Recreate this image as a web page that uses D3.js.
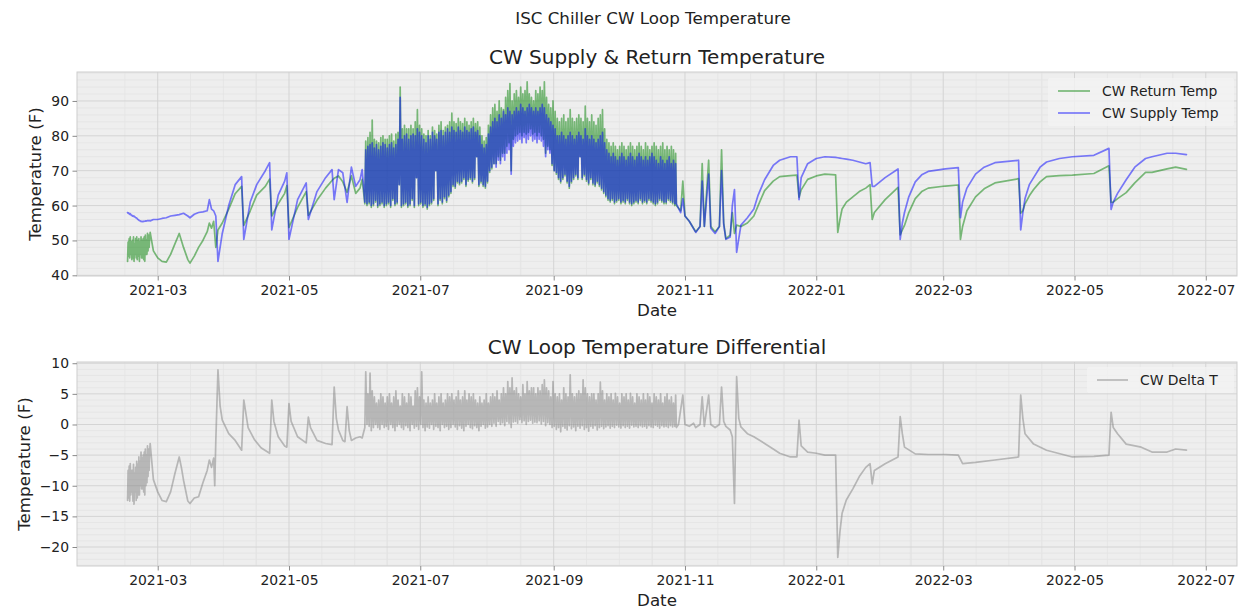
<!DOCTYPE html>
<html>
<head>
<meta charset="utf-8">
<script src="https://cdn.jsdelivr.net/npm/d3@7"></script>
<style>
  body { margin: 0; background: #ffffff; }
  svg { display: block; }
  text { font-family: "DejaVu Sans", sans-serif; fill: #222; }
</style>
</head>
<body>
<svg id="chart" width="1243" height="611"></svg>
<script>
// ---------------- data ----------------
// Start-up period: readings every 6 hours from earlyStart
const earlyStart = "2021-02-15T00";
const returnEarly = [
  44,49.5,45.5,50.5, 45,51,46,49.5, 44.5,50,45,51, 44,49,46,50.5, 45,51,44.5,50,
  45.5,50.5,44,49.5, 46,51,45,50, 45,50.5,44.5,51, 44,51.5,46,50, 46,52,47,51.5, 48,50.5,52.3
];
const supplyEarly = [
  58,57.8,57.9,57.6, 57.5,57.7,57.4,57.2, 57.2,57,57.1,56.9, 57,56.8,56.7,56.5, 56.5,56.4,56.2,56,
  56,55.8,55.7,55.6, 55.6,55.4,55.5,55.4, 55.4,55.5,55.4,55.5, 55.5,55.6,55.5,55.6, 55.6,55.7,55.6,55.7, 55.6,55.7,55.6
];
const deltaEarly = [
  -12.4,-7.5,-12,-6.8, -12.5,-6.4,-11.5,-7.5, -11,-7.5,-12.5,-6.5, -13,-8,-11,-7, -12.4,-6,-12,-6.5,
  -11.5,-5.3,-11.5,-6, -10,-4.5,-10.5,-5.5, -10.5,-5,-11,-4.5, -11.5,-4,-10,-5, -9.5,-3.5,-8.5,-4, -7.5,-4.5,-3.1
];

// Supply / return readings outside the start-up and daily-cycling periods
const sparseDates = [
  "2021-02-27","2021-03-01","2021-03-03","2021-03-05",
  "2021-03-07","2021-03-09","2021-03-11","2021-03-13","2021-03-15","2021-03-16","2021-03-18","2021-03-20",
  "2021-03-22","2021-03-24","2021-03-25","2021-03-26","2021-03-27","2021-03-28","2021-03-29",
  "2021-03-31","2021-04-03","2021-04-06","2021-04-09","2021-04-10","2021-04-13","2021-04-16","2021-04-20",
  "2021-04-22","2021-04-23","2021-04-26","2021-04-29","2021-04-30","2021-05-01","2021-05-05","2021-05-09",
  "2021-05-10","2021-05-14","2021-05-18","2021-05-21","2021-05-22","2021-05-24","2021-05-26","2021-05-28",
  "2021-05-30","2021-06-01","2021-06-03","2021-06-04",
  "2021-10-28","2021-10-30","2021-10-31","2021-11-01","2021-11-03","2021-11-06","2021-11-08","2021-11-09",
  "2021-11-10","2021-11-12","2021-11-13","2021-11-15","2021-11-17","2021-11-18","2021-11-19","2021-11-20",
  "2021-11-22","2021-11-23","2021-11-24","2021-11-25","2021-11-27","2021-11-30","2021-12-03","2021-12-05",
  "2021-12-08","2021-12-12","2021-12-15","2021-12-20","2021-12-23","2021-12-24","2021-12-25","2021-12-28",
  "2022-01-01","2022-01-05","2022-01-10","2022-01-11","2022-01-12","2022-01-13","2022-01-15","2022-01-18",
  "2022-01-21","2022-01-24","2022-01-26","2022-01-27","2022-01-28","2022-02-02","2022-02-08","2022-02-09",
  "2022-02-10","2022-02-11","2022-02-13","2022-02-16","2022-02-19","2022-02-22","2022-03-02","2022-03-08",
  "2022-03-09","2022-03-10","2022-03-12","2022-03-16","2022-03-20","2022-03-25","2022-04-05","2022-04-06",
  "2022-04-07","2022-04-08","2022-04-10","2022-04-12","2022-04-15","2022-04-18","2022-04-24","2022-04-30",
  "2022-05-10","2022-05-17","2022-05-18","2022-05-19","2022-05-21","2022-05-25","2022-05-29","2022-06-03",
  "2022-06-06","2022-06-13","2022-06-17","2022-06-22"
];
const returnSparse = [
  47,45,44,43.8,
  46,49,52,48,44.5,43.5,45.5,48, 50,52.5,55,53.5,55.5,48,53,
  55,59,63.4,65.5,54.3,58.5,63,65.5, 67.6,57,60.5,63.5,65.7,53.7,59.5,64,
  57.2,61.5,65,67.2,67.8,68.5,66.8,63.8, 68.5,63.5,65,67.5,
  60,58.5,67,57,55.5,52.5,54,72, 54,73,54,52.5,54,76,55,50.5,
  51.5,58,52,54.4,54,55,57,60, 64.3,67,68.3,68.6,68.7,62.4,64.5,67.5,
  68.5,69,68.8,52.3,56,59,61,62.5, 64,65,66,56,58,61.7,65.2,51.6,
  53,54.3,58,62,64,65,65.6,65.9, 50.3,54,58.5,62.5,64.8,66.5,67.7,57.8,
  58.5,60.5,62.8,64.6,66.8,68.3,68.6,68.7, 69.2,71.4,60.9,61,62,63.7,66.5,69.5,
  69.5,70.5,71,70.4
];
const supplySparse = [
  56,56,56.3,56.5,
  57,57.2,57.4,57.8,57,56.5,57.5,58, 58.2,58.5,61.7,59,58.5,57,44,
  52,60,66,68.3,50.3,61,66,70, 72.3,53,63,67,69.4,50.3,61.7,66.5,
  56,64,68,70.3,61.7,70.3,69.4,60.9, 71,65.5,67.4,70.3,
  60.5,58,62,57,55.5,52.3,54,67, 54,69,53.5,52,54,70,54.5,50.3,
  51,60,64.6,46.6,54.4,56.5,59,63, 67.4,71.5,73,74,74,61.7,68,72,
  73.5,74,73.8,73.7,73.6,73.5,73.3,73, 72.5,72,72.3,65.5,65.5,68,70.5,50.3,
  55,58,62.5,66.8,68.8,69.8,70.5,70.9, 56.5,61,65,69,71,72.3,73,53,
  58,62,66,68,71,72.5,73.5,74, 74.4,76.4,58.9,61,63.5,67.4,71,73.5,
  74,75,75,74.6
];

// Summer daily cycle: one night low and one afternoon high per day from cycleStart
const cycleStart = "2021-06-05";
const supplyLow = [
  61,60.5,61,60,60.5,61.5,60,60.5,61,60,
  60.5,61,60,62,60.5,61,66,60,60.5,61,
  60,60.5,62,60,68,60.5,61,60,60.5,59.5,
  60.5,61,62,70,60.5,62,61,62.5,61.5,63,
  64,66,65.5,67,66.5,67,68,66,67.5,68,
  67,68,74,66,67,66,65.5,67,70,71,
  72,71,73,72,74,73,75,76,69,77,
  78,78.5,79,78,79.5,78,79,80,78.5,79,
  78,79,78.5,77,74,76,75,72,70,69.5,
  68,67,68,69,67,65.5,67,68,69,68,
  74,68,69,67.5,66.5,68,66.5,66,67,66,
  65,64,63,62,61.5,62,61,61.5,62,61,
  61.5,61,62,61,60.5,61,61.5,61,62,61,
  61.5,61,62,61.5,61,60.5,61,62,61.5,61,
  61,62,61.5,61,60.5
];
const supplyHigh = [
  76,77,77.5,78,76.5,77.5,76,77,78,77.5,
  76.5,77.5,78,76.5,77.5,79,91,79,80,80.5,
  79,80,80.5,80,82,81,80,79,78,80,
  79,81,80,79,81,81.5,80,81,82,81,
  82.5,81.5,81,82.5,81.5,81,82.5,81.5,81,82,
  82.5,81,81.5,80,77.5,76.5,77.5,80.5,82.5,84,
  85,84,86,85,87,86,88,87,86,87,
  88,87,89,88,87,88,89,88,87,88,
  87,88,89,88,86,85,84,83,82,80,
  80,81,80,79,80,81,80,79,80,81,
  80,79,82,80,79,80,79,78,79,80,
  81,78,76,75,74,75,74,73,74,75,
  74,73,74,75,74,73,74,75,74,73,
  74,73,74,75,74,73,72,74,73,72,
  73,74,72,73,72
];
const returnLow = [
  60.5,60,60.5,59.5,60,61,59.5,60,60.5,59.5,
  60,60.5,59.5,61.5,60,60.5,66,59.5,60,60.5,
  59.5,60,61.5,59.5,68,60,60.5,59.5,60,59,
  60,60.5,61.5,70,60,61.5,60.5,62,61,62.5,
  63.5,65.5,65,66.5,66,66.5,67.5,65.5,67,67.5,
  66.5,67.5,74,65.5,66.5,65.5,65,66.5,69.5,70.5,
  72,72,74,73,75,75,77,78,70,79,
  80,80.5,81,80,81,80.5,81,82,80.5,81,
  80,81,80,79,75,77,76,71.5,70,69,
  67.5,66.5,67.5,68.5,66.5,65,66.5,67.5,68.5,67.5,
  74,67.5,68.5,67,66,67.5,66,65.5,66.5,65.5,
  64.5,63.5,62.5,61.5,61,61.5,60.5,61,61.5,60.5,
  61,60.5,61.5,60.5,60,60.5,61,60.5,61.5,60.5,
  61,60.5,61.5,61,60.5,60,60.5,61.5,61,60.5,
  60.5,61.5,61,60.5,60
];
const returnHigh = [
  78.5,79.5,81,84.5,79,78.5,78,79.5,80,79,
  79,80,80.5,78.5,80.5,81,94,82,83,82,
  82,83,82,84,87.5,83,82,80.5,80,81.5,
  80,82.5,81.5,80.5,83,84,81.5,82.5,83,84,
  86.5,84,83.5,85,84,83.5,85,84,83,84,
  85,83.5,84,82.5,80,78.5,79.5,83,86,88,
  89,87,90,88,87.5,91,93,95,90,92,
  93,91,94,92,93,95.5,92,91,90,93,
  92,94,93,95.5,91,89,88,90,87,85,
  84,85,86,84,85,87.5,85,84,85,86,
  85,84,88.5,85,84,86,84,83,85,86,
  87.5,82,79,78,77,78,77,76,77,78,
  77,76,77,78,77,76,77,78,77,76,
  78,77,76,77,78,77,76,77,78,76,
  77,76,77,76,75
];

// Delta T readings outside the start-up and summer periods
const deltaDates = [
  "2021-02-27","2021-03-01","2021-03-03","2021-03-05",
  "2021-03-07","2021-03-09","2021-03-11","2021-03-12","2021-03-13","2021-03-15","2021-03-16","2021-03-18",
  "2021-03-20","2021-03-22","2021-03-24","2021-03-25","2021-03-26","2021-03-27T00","2021-03-27T12",
  "2021-03-28","2021-03-29","2021-03-30","2021-03-31","2021-04-03","2021-04-06","2021-04-09","2021-04-10",
  "2021-04-12","2021-04-15","2021-04-18","2021-04-22","2021-04-23","2021-04-24","2021-04-26","2021-04-29",
  "2021-04-30","2021-05-01","2021-05-02","2021-05-05","2021-05-09","2021-05-10","2021-05-11","2021-05-14",
  "2021-05-18","2021-05-21","2021-05-22","2021-05-23","2021-05-24","2021-05-26","2021-05-27","2021-05-28",
  "2021-05-29","2021-05-30","2021-06-01","2021-06-03","2021-06-04",
  "2021-10-28","2021-10-29","2021-10-31","2021-11-01","2021-11-03","2021-11-05","2021-11-06","2021-11-08",
  "2021-11-09","2021-11-10","2021-11-12","2021-11-13","2021-11-15","2021-11-17","2021-11-18","2021-11-19",
  "2021-11-20","2021-11-22","2021-11-23","2021-11-24","2021-11-25","2021-11-26","2021-11-27","2021-11-30",
  "2021-12-03","2021-12-08","2021-12-12","2021-12-15","2021-12-20","2021-12-23","2021-12-24","2021-12-25",
  "2021-12-28","2022-01-01","2022-01-05","2022-01-10","2022-01-11","2022-01-12","2022-01-13","2022-01-15",
  "2022-01-18","2022-01-21","2022-01-24","2022-01-26","2022-01-27","2022-01-28","2022-02-02","2022-02-08",
  "2022-02-09","2022-02-10","2022-02-11","2022-02-16","2022-02-22","2022-03-02","2022-03-08","2022-03-10",
  "2022-03-16","2022-03-25","2022-04-05","2022-04-06","2022-04-07","2022-04-08","2022-04-12","2022-04-18",
  "2022-04-30","2022-05-10","2022-05-17","2022-05-18","2022-05-19","2022-05-21","2022-05-25","2022-06-01",
  "2022-06-06","2022-06-13","2022-06-17","2022-06-22"
];
const deltaSparse = [
  -9,-11,-12.4,-12.6, -11,-8,-5.3,-7,-9.1,-12.5,-12.9,-12,
  -11.8,-9.5,-7.5,-5.8,-7,-5.5,-10, -2.6,8.9,3,0.7,-1.5,-2.6,-4.2,4,
  -0.5,-2.5,-3.8,-4.7,4,0.5,-2,-3.5, -3.7,3.4,0.5,-2,-3,1.2,-0.5,-2.6,
  -3.1,-3.3,6.1,1,-0.9,-2.6,-2.8,2.9, -1,-2.6,-2.2,-2,-2.2,
  -0.5,0,4.8,0,-0.3,0.2,-0.5,0, 4.5,-0.3,4.8,0,-0.5,0,6.1,0.5,
  -0.3,-0.9,-2,-12.9,7.8,1,-0.4,-1.5, -2,-3.1,-4,-4.7,-5.3,-5.3,0.7,-3.5,
  -4.5,-4.7,-5,-5,-21.7,-17.5,-14.5,-12.3, -10.5,-8.5,-7,-6.4,-9.7,-7.5,-6.4,-5.3,
  1.3,-1.5,-3.7,-4.8,-4.9,-4.9,-5,-6.4, -6.2,-5.8,-5.3,4.8,1,-1.5,-3.2,-4.2,
  -5.3,-5.2,-5,2,-0.5,-1.5,-3.2,-3.7, -4.5,-4.5,-4,-4.2
];
const deltaLow = [
  -0.5,0,-0.3,-1,-0.5,0,-0.5,-0.8,0,-0.5,
  -0.3,-0.8,0,-0.5,-1,-0.3,0,-0.5,-0.8,-0.2,
  -0.5,-1,0,-0.6,-0.3,-0.8,0,-0.5,-1,-0.4,
  -0.6,0,-0.8,-0.3,-0.5,-1,0,-0.5,-0.3,-0.8,
  -0.5,0,-0.4,-0.8,-0.2,-0.6,-1,-0.3,0,-0.5,
  -0.7,-0.2,-0.5,-1,-0.3,0,-0.6,-0.4,0,-0.3,
  0.2,-0.3,0.5,0,0.3,-0.2,0.5,0.2,-0.5,0.4,
  0.5,0.2,0.8,0.3,0.6,0,0.5,0.7,0.2,0.4,
  0.3,0.6,0.1,0.5,-0.2,0.3,0,-0.5,-0.3,-0.8,
  -0.5,-1.2,-0.3,-0.6,-0.9,-0.2,-0.7,-0.4,-1,-0.3,
  -0.6,-0.2,-0.8,-0.5,-1.1,-0.3,-0.6,-0.2,-0.9,-0.5,
  -0.3,-0.7,-0.4,-0.2,-0.6,-0.3,-0.5,-0.1,-0.4,-0.6,
  -0.2,-0.5,-0.3,-0.6,-0.1,-0.4,-0.3,-0.5,-0.2,-0.4,
  -0.3,-0.6,-0.2,-0.4,-0.5,-0.1,-0.3,-0.6,-0.2,-0.4,
  -0.3,-0.5,-0.2,-0.4,-0.3
];
const deltaHigh = [
  8.6,5,8.4,5.5,4.5,3.5,4,5,4.5,3.5,
  4.5,5,3.5,4.5,5.5,4,3,5,4.5,3.5,
  5,4.5,3,5.5,6,4.5,8.6,4,3.5,4.5,
  3.5,4,5,3.5,4.5,5,3.5,4,5,4.5,
  5,4,4.5,5.5,4,4.5,5.5,4,5,4.5,
  5,4,3.5,4.5,3.5,4,5,3.5,4.5,5,
  4.5,5.5,4,5,6,5,7,6,7.6,5.5,
  6,5,4.5,6.5,5,7,5.5,6,6,5,
  6,5.5,6.5,7.3,6,5.5,4.5,7,5,4.5,
  5,4,6,5,4.5,8.1,5,4.5,5,5.5,
  5,7.3,6,5,4.5,5,5,4,5,6.9,
  5.5,4,5,4.5,5,4,5.1,4.5,3.5,5,
  4.5,5,4,5.1,4.5,3.5,5,4.5,4,5,
  4,5,4.5,3.5,5,4.5,4,5,3.5,4.5,
  5,4,4.5,3.5,4.8
];

const xTickLabels = ["2021-03","2021-05","2021-07","2021-09","2021-11","2022-01","2022-03","2022-05","2022-07"];
const topYTicks = [40, 50, 60, 70, 80, 90];
const bottomYTicks = [-20, -15, -10, -5, 0, 5, 10];

// ---------------- helpers ----------------
const parseHour = d3.utcParse("%Y-%m-%dT%H");
const parseDay = d3.utcParse("%Y-%m-%d");
const parseMonth = d3.utcParse("%Y-%m");
const toDate = s => (s.length > 10 ? parseHour(s) : parseDay(s));

function earlyPoints(values) {
  const start = parseHour(earlyStart);
  return values.map((v, i) => [d3.utcHour.offset(start, 6 * i), v]);
}
function cyclePoints(lows, highs) {
  const start = parseDay(cycleStart);
  const pts = [];
  lows.forEach((lo, i) => {
    const day = d3.utcDay.offset(start, i);
    pts.push([d3.utcHour.offset(day, 6), lo]);
    pts.push([d3.utcHour.offset(day, 16), highs[i]]);
  });
  return pts;
}
function buildSeries(early, dates, values, lows, highs) {
  const pts = earlyPoints(early)
    .concat(dates.map((d, i) => [toDate(d), values[i]]))
    .concat(cyclePoints(lows, highs));
  return pts.sort((a, b) => a[0] - b[0]);
}

const returnSeries = buildSeries(returnEarly, sparseDates, returnSparse, returnLow, returnHigh);
const supplySeries = buildSeries(supplyEarly, sparseDates, supplySparse, supplyLow, supplyHigh);
const deltaSeries = buildSeries(deltaEarly, deltaDates, deltaSparse, deltaLow, deltaHigh);

// ---------------- layout ----------------
const svg = d3.select("#chart");
const left = 77, right = 1237;
const FS = { tick: 13.9, title: 20, label: 16.7, legend: 13.9, suptitle: 16.7 };
const panels = [
  { top: 72, bottom: 276, domain: [39.8, 98.3], ticks: topYTicks, minorStep: 2,
    title: "CW Supply & Return Temperature", ylabelX: 35,
    series: [
      { name: "CW Return Temp", data: returnSeries, color: "#008000" },
      { name: "CW Supply Temp", data: supplySeries, color: "#0000ff" }
    ],
    legend: { x: 1058, y: 91, w: 32, textX: 1102, gap: 22, box: [1048, 78, 186, 48] } },
  { top: 362, bottom: 566, domain: [-23.1, 10.2], ticks: bottomYTicks, minorStep: 1,
    title: "CW Loop Temperature Differential", ylabelX: 24,
    series: [ { name: "CW Delta T", data: deltaSeries, color: "#808080" } ],
    legend: { x: 1097, y: 380, w: 31, textX: 1140, gap: 22, box: [1087, 367, 147, 26] } }
];

const x = d3.scaleUtc()
  .domain([new Date(Date.UTC(2021, 0, 22, 12)), new Date(Date.UTC(2022, 6, 15, 12))])
  .range([left, right]);
const xMajor = xTickLabels.map(parseMonth);
// four minor intervals between each pair of major ticks
const xMinor = [];
for (let i = 0; i < xMajor.length; i++) {
  const a = xMajor[i], b = xMajor[i + 1] || d3.utcMonth.offset(a, 2);
  for (let k = -1; k < 4; k++) {
    const t = new Date(+a + (b - a) * k / 4);
    if (k !== 0 && t >= x.domain()[0] && t <= x.domain()[1]) xMinor.push(t);
  }
}

svg.append("text").attr("x", 653).attr("y", 24).attr("text-anchor", "middle")
  .style("font-size", FS.suptitle + "px").text("ISC Chiller CW Loop Temperature");

panels.forEach((p, pi) => {
  const y = d3.scaleLinear().domain(p.domain).range([p.bottom, p.top]);
  const g = svg.append("g");
  const clipId = "clip" + pi;
  svg.append("clipPath").attr("id", clipId).append("rect")
    .attr("x", left).attr("y", p.top).attr("width", right - left).attr("height", p.bottom - p.top);

  g.append("rect").attr("x", left).attr("y", p.top).attr("width", right - left)
    .attr("height", p.bottom - p.top).attr("fill", "#eeeeee");

  // minor grid
  const yMinor = d3.range(Math.ceil(p.domain[0] / p.minorStep) * p.minorStep, p.domain[1], p.minorStep)
    .filter(v => !p.ticks.includes(v));
  g.selectAll(".hminor").data(yMinor).join("line")
    .attr("x1", left).attr("x2", right).attr("y1", d => y(d)).attr("y2", d => y(d))
    .attr("stroke", "#e3e3e3").attr("stroke-width", 0.8);
  g.selectAll(".vminor").data(xMinor).join("line")
    .attr("y1", p.top).attr("y2", p.bottom).attr("x1", d => x(d)).attr("x2", d => x(d))
    .attr("stroke", "#e3e3e3").attr("stroke-width", 0.8);
  // major grid
  g.selectAll(".hmajor").data(p.ticks).join("line")
    .attr("x1", left).attr("x2", right).attr("y1", d => y(d)).attr("y2", d => y(d))
    .attr("stroke", "#d4d4d4").attr("stroke-width", 1);
  g.selectAll(".vmajor").data(xMajor).join("line")
    .attr("y1", p.top).attr("y2", p.bottom).attr("x1", d => x(d)).attr("x2", d => x(d))
    .attr("stroke", "#d4d4d4").attr("stroke-width", 1);

  // data lines
  const line = d3.line().x(d => x(d[0])).y(d => y(d[1]));
  const plot = g.append("g").attr("clip-path", `url(#${clipId})`);
  p.series.forEach(s => {
    plot.append("path").datum(s.data).attr("d", line)
      .attr("fill", "none").attr("stroke", s.color).attr("stroke-opacity", 0.5)
      .attr("stroke-width", 1.7).attr("stroke-linejoin", "round").attr("stroke-linecap", "round");
  });

  // frame
  g.append("rect").attr("x", left).attr("y", p.top).attr("width", right - left)
    .attr("height", p.bottom - p.top).attr("fill", "none").attr("stroke", "#cdcdcd").attr("stroke-width", 1);

  // axes
  const xAxis = g.append("g").attr("transform", `translate(0,${p.bottom})`)
    .call(d3.axisBottom(x).tickValues(xMajor).tickFormat(d3.utcFormat("%Y-%m")).tickSize(4.5).tickPadding(5));
  const yAxis = g.append("g").attr("transform", `translate(${left},0)`)
    .call(d3.axisLeft(y).tickValues(p.ticks).tickFormat(d3.format("d")).tickSize(4.5).tickPadding(3.5));
  [xAxis, yAxis].forEach(a => {
    a.select(".domain").remove();
    a.selectAll(".tick line").attr("stroke", "#8a8a8a");
    a.selectAll(".tick text").attr("fill", "#222").style("font-size", FS.tick + "px")
      .style("font-family", '"DejaVu Sans", sans-serif');
  });

  // titles and labels
  svg.append("text").attr("x", (left + right) / 2).attr("y", p.top - 8.5).attr("text-anchor", "middle")
    .style("font-size", FS.title + "px").text(p.title);
  svg.append("text").attr("x", (left + right) / 2).attr("y", p.bottom + 40).attr("text-anchor", "middle")
    .style("font-size", FS.label + "px").text("Date");
  svg.append("text")
    .attr("transform", `translate(${p.ylabelX},${(p.top + p.bottom) / 2}) rotate(-90)`)
    .attr("text-anchor", "middle").attr("dy", "0.35em").style("font-size", FS.label + "px").text("Temperature (F)");

  // legend
  const L = p.legend;
  g.append("rect").attr("x", L.box[0]).attr("y", L.box[1]).attr("width", L.box[2]).attr("height", L.box[3])
    .attr("fill", "#f2f2f2").attr("fill-opacity", 0.8).attr("rx", 2);
  p.series.forEach((s, i) => {
    const ly = L.y + i * L.gap;
    g.append("line").attr("x1", L.x).attr("x2", L.x + L.w).attr("y1", ly).attr("y2", ly)
      .attr("stroke", s.color).attr("stroke-opacity", 0.5).attr("stroke-width", 1.7);
    g.append("text").attr("x", L.textX).attr("y", ly).attr("dy", "0.35em")
      .style("font-size", FS.legend + "px").text(s.name);
  });
});
</script>
</body>
</html>
